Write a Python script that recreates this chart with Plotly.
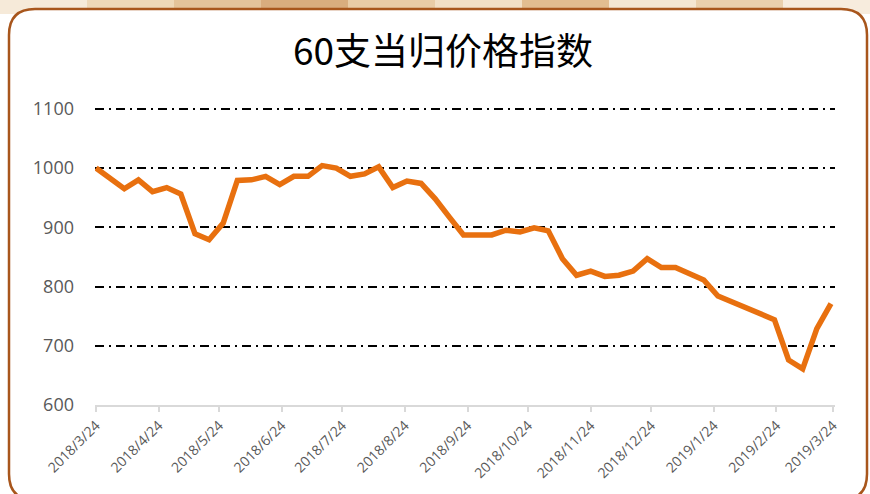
import plotly.graph_objects as go

title_text = "60支当归价格指数"

dates = [
    "2018-03-24", "2018-04-07", "2018-04-14", "2018-04-21", "2018-04-28",
    "2018-05-05", "2018-05-12", "2018-05-19", "2018-05-26", "2018-06-02",
    "2018-06-09", "2018-06-16", "2018-06-23", "2018-06-30", "2018-07-07",
    "2018-07-14", "2018-07-21", "2018-07-28", "2018-08-04", "2018-08-11",
    "2018-08-18", "2018-08-25", "2018-09-01", "2018-09-08", "2018-09-15",
    "2018-09-22", "2018-09-29", "2018-10-06", "2018-10-13", "2018-10-20",
    "2018-10-27", "2018-11-03", "2018-11-10", "2018-11-17", "2018-11-24",
    "2018-12-01", "2018-12-08", "2018-12-15", "2018-12-22", "2018-12-29",
    "2019-01-05", "2019-01-12", "2019-01-19", "2019-01-26", "2019-02-23",
    "2019-03-02", "2019-03-09", "2019-03-16", "2019-03-23",
]
values = [
    1000, 965, 980, 960, 967,
    956, 889, 879, 907, 979,
    980, 986, 972, 986, 986,
    1004, 1000, 986, 990, 1002,
    967, 978, 974, 948, 917,
    887, 887, 887, 895, 892,
    899, 894, 847, 819, 826,
    817, 819, 826, 847, 832,
    832, 821, 811, 784, 744,
    676, 661, 729, 771,
]

tick_dates = [
    "2018-03-24", "2018-04-24", "2018-05-24", "2018-06-24", "2018-07-24",
    "2018-08-24", "2018-09-24", "2018-10-24", "2018-11-24", "2018-12-24",
    "2019-01-24", "2019-02-24", "2019-03-24",
]
tick_labels = [
    "2018/3/24", "2018/4/24", "2018/5/24", "2018/6/24", "2018/7/24",
    "2018/8/24", "2018/9/24", "2018/10/24", "2018/11/24", "2018/12/24",
    "2019/1/24", "2019/2/24", "2019/3/24",
]
y_ticks = [600, 700, 800, 900, 1000, 1100]

W, H = 870, 494
ML, MR, MT, MB = 95, 35, 107, 89
PW, PH = W - ML - MR, H - MT - MB


def px(x):
    return (x - ML) / PW


def py(y):
    return 1 - (y - MT) / PH


fig = go.Figure()
fig.add_trace(go.Scatter(
    x=dates, y=values, mode="lines",
    line=dict(color="#E8700F", width=5.5),
    hoverinfo="skip", showlegend=False,
))

shapes = []
# top photo strip
strip_cols = ["#f6ead9", "#eed8b8", "#e4c39a", "#d9ad7e", "#e9cca6", "#f2dfc5",
              "#e2bd90", "#f4e6d2", "#ead0ad", "#f7ecdd"]
n = len(strip_cols)
for i, c in enumerate(strip_cols):
    shapes.append(dict(type="rect", xref="paper", yref="paper",
                       x0=px(i * W / n), x1=px((i + 1) * W / n),
                       y0=py(0), y1=py(14), fillcolor=c, line=dict(width=0),
                       layer="below"))
# rounded frame
x0, x1, y0, y1, r = 9, 867, 9, 500, 26
path = (f"M {px(x0)},{py(y0 + r)} "
        f"Q {px(x0)},{py(y0)} {px(x0 + r)},{py(y0)} "
        f"L {px(x1 - r)},{py(y0)} "
        f"Q {px(x1)},{py(y0)} {px(x1)},{py(y0 + r)} "
        f"L {px(x1)},{py(y1 - r)} "
        f"Q {px(x1)},{py(y1)} {px(x1 - r)},{py(y1)} "
        f"L {px(x0 + r)},{py(y1)} "
        f"Q {px(x0)},{py(y1)} {px(x0)},{py(y1 - r)} Z")
shapes.append(dict(type="path", xref="paper", yref="paper", path=path,
                   fillcolor="white", line=dict(color="#A8561C", width=2.5),
                   layer="below"))

fig.update_layout(
    width=W, height=H,
    margin=dict(l=ML, r=MR, t=MT, b=MB, autoexpand=False),
    paper_bgcolor="white", plot_bgcolor="rgba(0,0,0,0)",
    shapes=shapes,
    title=dict(text=title_text, x=443 / W, xref="container", xanchor="center",
               y=1 - 52 / H, yref="container", yanchor="middle",
               font=dict(family="Noto Sans CJK SC", size=37, color="#000000")),
    xaxis=dict(
        type="date",
        range=["2018-03-23 12:00", "2019-03-25 00:00"],
        tickvals=tick_dates, ticktext=tick_labels, tickangle=-45,
        tickfont=dict(family="Open Sans", size=14, color="#595959"),
        showgrid=False, zeroline=False,
        showline=True, linecolor="#d9d9d9", linewidth=1.5,
        ticks="outside", ticklen=5, tickcolor="#d9d9d9", tickwidth=1.5,
    ),
    yaxis=dict(
        range=[600, 1103], tickvals=y_ticks,
        tickfont=dict(family="Open Sans", size=18, color="#595959"),
        showgrid=True, gridcolor="#000000", gridwidth=1.5,
        griddash="9px,5px,2px,5px",
        zeroline=False, showline=False, ticks="", ticklabelstandoff=20,
    ),
)

fig.write_html(
    "out.html",
    config={"displayModeBar": False},
    post_script="document.body.style.margin='0px';document.body.style.padding='0px';",
)
